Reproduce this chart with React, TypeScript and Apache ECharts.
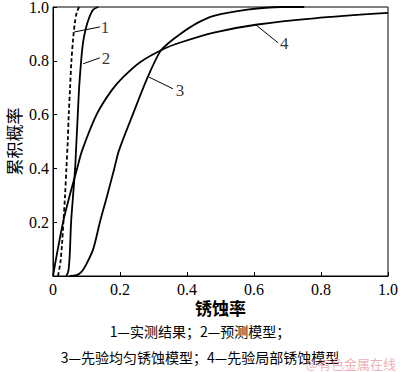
import React, { useEffect, useRef } from "react";
import * as echarts from "echarts";

const xTicks = [0, 0.2, 0.4, 0.6, 0.8, 1.0];
const yTicks = [0, 0.2, 0.4, 0.6, 0.8, 1.0];

const curve1: [number, number][] = [
  [0.015, 0], [0.022, 0.05], [0.027, 0.12], [0.031, 0.2], [0.036, 0.3], [0.04, 0.4],
  [0.044, 0.5], [0.047, 0.6], [0.051, 0.7], [0.055, 0.8], [0.06, 0.88], [0.065, 0.94],
  [0.071, 0.98], [0.078, 1.0],
];
const curve2: [number, number][] = [
  [0.04, 0], [0.046, 0.02], [0.05, 0.08], [0.054, 0.2], [0.06, 0.3], [0.066, 0.4],
  [0.07, 0.5], [0.074, 0.6], [0.078, 0.7], [0.084, 0.8], [0.09, 0.87], [0.098, 0.92],
  [0.108, 0.96], [0.12, 0.99], [0.135, 1.0],
];
const curve3: [number, number][] = [
  [0.05, 0], [0.07, 0.003], [0.085, 0.015], [0.1, 0.045], [0.12, 0.1], [0.14, 0.2],
  [0.162, 0.3], [0.183, 0.4], [0.197, 0.467], [0.238, 0.6], [0.283, 0.74], [0.32, 0.835],
  [0.345, 0.866], [0.38, 0.9], [0.43, 0.94], [0.48, 0.967], [0.58, 0.99], [0.68, 1.0], [0.75, 1.0],
];
const curve4: [number, number][] = [
  [0, 0], [0.01, 0.07], [0.03, 0.2], [0.05, 0.3], [0.072, 0.4],
  [0.087, 0.467], [0.13, 0.6], [0.175, 0.69], [0.21, 0.74], [0.26, 0.795], [0.33, 0.844],
  [0.38, 0.868], [0.48, 0.905], [0.61, 0.935], [0.78, 0.958], [1.0, 0.978],
];

const curveLabels = ["1", "2", "3", "4"];
const labelPos: [number, number][] = [
  [0.155, 0.922], [0.158, 0.807], [0.379, 0.689], [0.69, 0.863],
];
const leaders: [[number, number], [number, number]][] = [
  [[0.063, 0.907], [0.14, 0.926]],
  [[0.09, 0.789], [0.14, 0.811]],
  [[0.284, 0.741], [0.358, 0.696]],
  [[0.606, 0.933], [0.672, 0.867]],
];

const xName = "锈蚀率";
const yName = "累积概率";
const legendLine1 = "1—实测结果；2—预测模型；";
const legendLine2 = "3—先验均匀锈蚀模型；4—先验局部锈蚀模型";
const watermark = "@有色金属在线";

const SERIF = "Liberation Serif";
const CJK = "Noto Sans CJK SC";

export default function App() {
  const ref = useRef<HTMLDivElement>(null);
  useEffect(() => {
    if (!ref.current) return;
    const chart = echarts.init(ref.current, undefined, { renderer: "svg" });
    const lineStyle = { color: "#000", width: 1.8 };
    const common = { type: "line", smooth: 0.3, showSymbol: false };
    chart.setOption({
      animation: false,
      backgroundColor: "#fff",
      grid: {
        left: 53, top: 7, right: 12, bottom: 96, show: true, borderColor: "#000", borderWidth: 1,
        containLabel: false, outerBoundsMode: "none",
      },
      xAxis: {
        type: "value", min: 0, max: 1, interval: 0.2,
        name: xName, nameLocation: "middle", nameGap: 23, nameMoveOverlap: false,
        nameTextStyle: { fontFamily: CJK, fontSize: 17, fontWeight: "bold", color: "#000" },
        axisLine: { show: true, lineStyle: { color: "#000" } },
        axisTick: { show: true, inside: true, length: 4, lineStyle: { color: "#000" } },
        splitLine: { show: false },
        axisLabel: {
          margin: 5, color: "#000", fontFamily: SERIF, fontSize: 16,
          formatter: (v: number) => (xTicks.includes(v) && v === 0 ? "0" : v.toFixed(1)),
        },
      },
      yAxis: {
        type: "value", min: 0, max: 1, interval: 0.2,
        name: yName, nameLocation: "middle", nameGap: 31, nameRotate: 90, nameMoveOverlap: false,
        nameTextStyle: { fontFamily: CJK, fontSize: 17, color: "#000" },
        axisLine: { show: true, lineStyle: { color: "#000" } },
        axisTick: { show: true, inside: true, length: 4, lineStyle: { color: "#000" } },
        splitLine: { show: false },
        axisLabel: {
          margin: 4, color: "#000", fontFamily: SERIF, fontSize: 16,
          formatter: (v: number) => (v === 0 || !yTicks.includes(Math.round(v * 10) / 10) ? "" : v.toFixed(1)),
        },
      },
      series: [
        { ...common, data: curve1, lineStyle: { ...lineStyle, type: [4, 2.5] } },
        { ...common, data: curve2, lineStyle },
        { ...common, data: curve3, lineStyle },
        { ...common, data: curve4, lineStyle },
        {
          type: "scatter",
          symbolSize: 0,
          data: labelPos.map((p, i) => ({ value: p, name: curveLabels[i] })),
          label: {
            show: true, position: "inside", formatter: (p: any) => p.name,
            color: "#000", fontFamily: SERIF, fontSize: 17,
          },
          markLine: {
            silent: true, symbol: "none", animation: false,
            label: { show: false },
            lineStyle: { color: "#000", width: 1, type: "solid" },
            data: leaders.map(([a, b]) => [{ coord: a }, { coord: b }]),
          },
        },
      ],
      graphic: [
        { type: "text", left: "center", top: 324, style: { text: legendLine1, font: `14px ${CJK}`, fill: "#000" } },
        { type: "text", left: "center", top: 350, style: { text: legendLine2, font: `14px ${CJK}`, fill: "#000" } },
        { type: "text", right: 4, top: 357, style: { text: watermark, font: `13px ${CJK}`, fill: "rgba(230,140,150,0.7)" } },
      ],
    });
    return () => chart.dispose();
  }, []);
  return <div ref={ref} style={{ width: 400, height: 372, position: "fixed", left: 0, top: 0 }} />;
}
